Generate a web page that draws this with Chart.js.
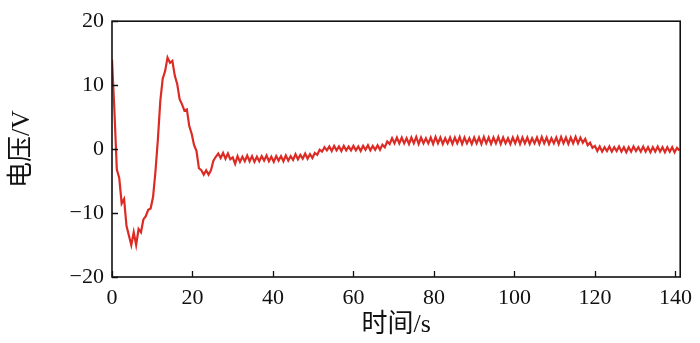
<!DOCTYPE html>
<html>
<head>
<meta charset="utf-8">
<script src="https://cdn.jsdelivr.net/npm/chart.js@4.4.0/dist/chart.umd.min.js"></script>
<style>
  html, body { margin: 0; padding: 0; background: #fff; }
  #wrap { width: 700px; height: 343px; }
</style>
</head>
<body>
<div id="wrap"><canvas id="voltChart"></canvas></div>
<script>
// sampling interval of the trace (s)
const sampleStep = 0.6;

// voltage samples (V), one every sampleStep seconds from t = 0
const volts = [
  14, 6, -3.2, -4.5, -8.5, -7.8, -12, -13.5, -15, -13,
  -15, -12.5, -13, -11, -10.5, -9.5, -9.3, -7.5, -3.5, 1.5,
  7.5, 11, 12.2, 14.3, 13.5, 13.8, 11.5, 10.2, 7.8, 7,
  6, 6.2, 3.6, 2.4, 0.6, -0.3, -3, -3.3, -4, -3.3,
  -4, -3.3, -1.8, -1.2, -0.7, -1.4, -0.6, -1.5, -0.7, -1.6,
  -1.3, -2.3, -1.1, -2.0, -1.2, -1.9, -1.0, -1.9, -1.1, -2.0,
  -1.2, -1.9, -1.1, -1.8, -1.0, -1.9, -1.2, -2.0, -1.1, -1.8,
  -1.1, -1.9, -1.0, -1.8, -1.1, -1.7, -0.8, -1.6, -0.9, -1.5,
  -0.7, -1.5, -0.8, -1.4, -0.6, -0.9, -0.1, -0.4, 0.3, -0.2,
  0.4, -0.3, 0.5, -0.2, 0.4, -0.3, 0.5, -0.2, 0.4, -0.2,
  0.5, -0.2, 0.4, -0.3, 0.5, -0.1, 0.6, -0.2, 0.5, -0.1,
  0.6, -0.1, 0.7, 0.3, 1.2, 0.8, 1.7, 0.9, 1.8, 0.9,
  1.8, 0.9, 1.7, 0.8, 1.8, 0.9, 1.9, 0.8, 1.8, 0.9,
  1.7, 0.9, 1.8, 0.8, 1.9, 0.9, 1.8, 0.8, 1.7, 0.9,
  1.8, 0.8, 1.8, 0.9, 1.9, 0.8, 1.8, 0.9, 1.7, 0.8,
  1.8, 0.9, 1.8, 0.8, 1.9, 0.9, 1.8, 0.8, 1.8, 0.9,
  1.9, 0.8, 1.8, 0.9, 1.7, 0.8, 1.8, 0.9, 1.9, 0.8,
  1.8, 0.9, 1.8, 0.8, 1.7, 0.9, 1.8, 0.8, 1.9, 0.9,
  1.8, 0.8, 1.7, 0.9, 1.8, 0.8, 1.9, 0.9, 1.8, 0.8,
  1.8, 0.9, 1.9, 0.9, 1.8, 1.0, 1.6, 0.6, 1.0, 0.2,
  0.5, -0.3, 0.4, -0.4, 0.3, -0.3, 0.4, -0.4, 0.3, -0.3,
  0.4, -0.4, 0.3, -0.5, 0.3, -0.4, 0.4, -0.3, 0.3, -0.4,
  0.4, -0.4, 0.3, -0.5, 0.3, -0.4, 0.4, -0.4, 0.3, -0.5,
  0.3, -0.4, 0.3, -0.5, 0.2, -0.2
];

const xTicks = [0, 20, 40, 60, 80, 100, 120, 140];
const yTicks = [-20, -10, 0, 10, 20];
const xTitle = '时间/s';
const yTitle = '电压/V';

const points = volts.map((v, i) => ({ x: +(i * sampleStep).toFixed(1), y: v }));

const serif = '"Liberation Serif", "Noto Sans CJK SC", serif';
const ink = '#111';

// frame + inward tick marks
const frameTicks = {
  id: 'frameTicks',
  afterDraw(chart) {
    const { ctx, chartArea: a, scales } = chart;
    ctx.save();
    ctx.strokeStyle = ink;
    ctx.lineWidth = 1.6;
    ctx.strokeRect(a.left, a.top, a.right - a.left, a.bottom - a.top);
    ctx.lineWidth = 1.3;
    ctx.beginPath();
    xTicks.forEach(t => {
      const px = Math.round(scales.x.getPixelForValue(t)) + 0.5;
      ctx.moveTo(px, a.bottom);
      ctx.lineTo(px, a.bottom - 6);
    });
    yTicks.forEach(t => {
      const py = Math.round(scales.y.getPixelForValue(t)) + 0.5;
      ctx.moveTo(a.left, py);
      ctx.lineTo(a.left + 6, py);
    });
    ctx.stroke();
    ctx.restore();
  }
};

new Chart(document.getElementById('voltChart'), {
  type: 'line',
  data: {
    datasets: [{
      data: points,
      borderColor: '#dc2b24',
      borderWidth: 2.2,
      pointRadius: 0,
      tension: 0,
      fill: false
    }]
  },
  options: {
    responsive: true,
    maintainAspectRatio: false,
    animation: false,
    layout: { padding: { top: 9, right: 14, left: 0, bottom: 0 } },
    plugins: {
      legend: { display: false },
      tooltip: { enabled: false }
    },
    scales: {
      x: {
        type: 'linear',
        min: 0,
        max: 141.2,
        grid: { display: false, drawTicks: false },
        border: { display: false },
        afterBuildTicks: s => { s.ticks = xTicks.map(v => ({ value: v })); },
        afterFit: s => { s.height = 66; },
        ticks: {
          padding: 8,
          maxRotation: 0,
          color: ink,
          font: { family: serif, size: 22 }
        },
        title: {
          display: true,
          text: xTitle,
          color: ink,
          padding: { top: 0, bottom: 2 },
          font: { family: serif, size: 26 }
        }
      },
      y: {
        min: -20,
        max: 20,
        grid: { display: false, drawTicks: false },
        border: { display: false },
        afterBuildTicks: s => { s.ticks = yTicks.map(v => ({ value: v })); },
        afterFit: s => { s.width = 112; },
        ticks: {
          padding: 8,
          color: ink,
          font: { family: serif, size: 22 },
          callback: v => String(v).replace('-', '\u2212')
        },
        title: {
          display: true,
          text: yTitle,
          color: ink,
          padding: { top: 7, bottom: 0 },
          font: { family: serif, size: 26 }
        }
      }
    }
  },
  plugins: [frameTicks]
});
</script>
</body>
</html>
